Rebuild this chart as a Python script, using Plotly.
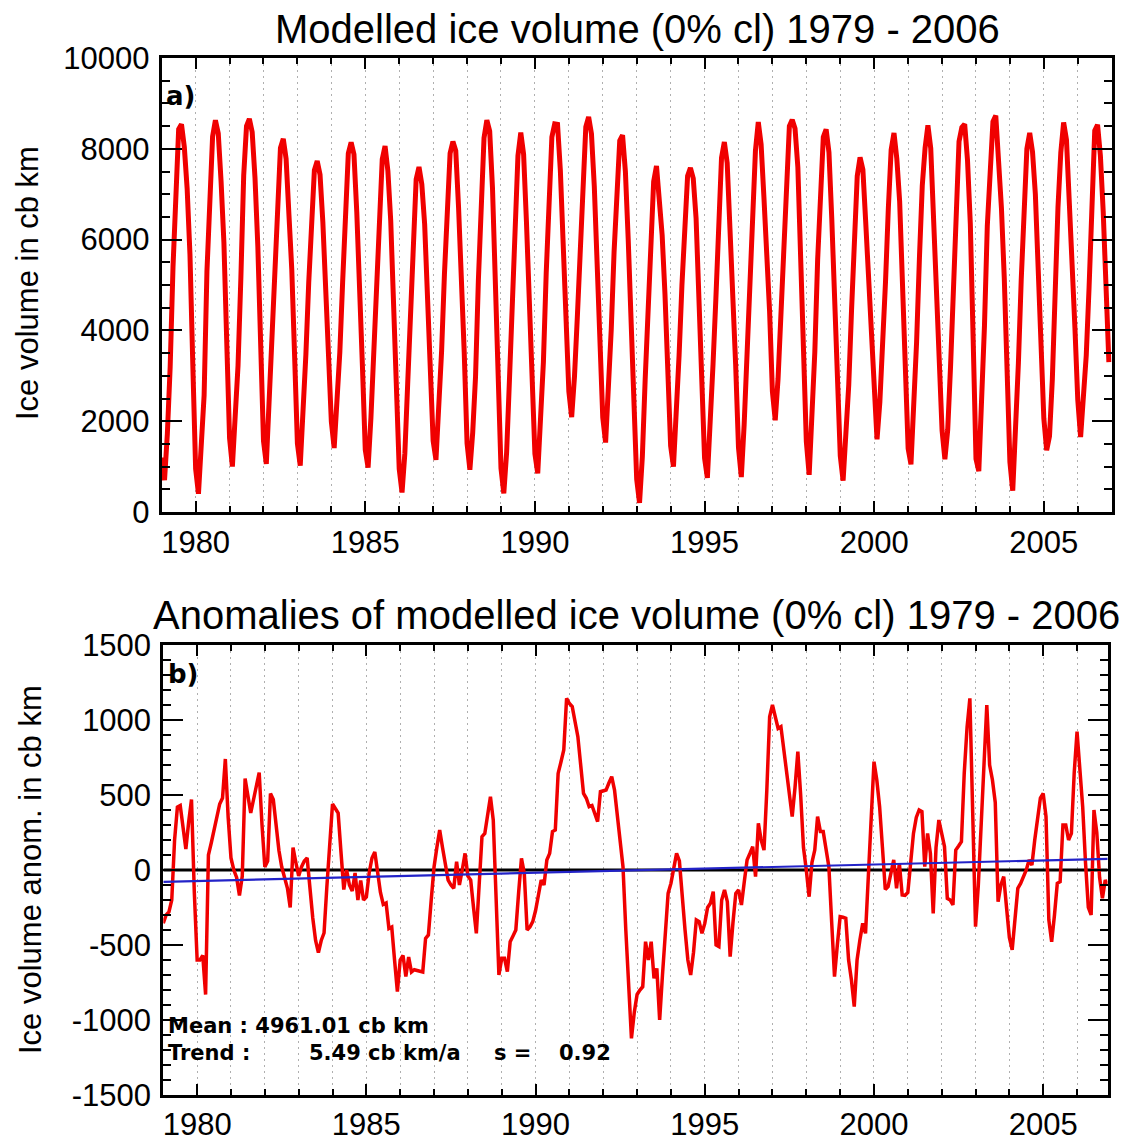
import plotly.graph_objects as go

W, H = 1126, 1141

# ---------------- data ----------------
years = list(range(1979, 2007))

# Monthly modelled ice volume (cb km), one row per year Jan..Dec
ice_volume_rows = [
    [1200, 700, 1720, 3200, 5400, 7220, 8430, 8540, 8040, 7120, 5670, 3250],   # 1979
    [950, 400, 1430, 2570, 5300, 6980, 8270, 8630, 8340, 7280, 5940, 3750],    # 1980
    [1630, 1000, 1950, 3230, 5160, 7410, 8500, 8660, 8370, 7360, 5850, 3700],  # 1981
    [1570, 1060, 2510, 3870, 5500, 6930, 8020, 8220, 7780, 6550, 5350, 3450],  # 1982
    [1510, 1020, 2060, 3480, 5050, 6480, 7530, 7730, 7430, 6380, 5090, 3580],  # 1983
    [1990, 1410, 2380, 3520, 5070, 6800, 7900, 8140, 7880, 6600, 5130, 3200],  # 1984
    [1370, 980, 2080, 3520, 5180, 6650, 7770, 8060, 7510, 6420, 4600, 2590],   # 1985
    [950, 430, 1290, 2820, 4520, 6140, 7330, 7600, 7220, 6340, 4770, 3200],    # 1986
    [1570, 1150, 2270, 3550, 5240, 6730, 7900, 8160, 7960, 6700, 5200, 3510],  # 1987
    [1510, 930, 1750, 2980, 5100, 7020, 8240, 8630, 8390, 7130, 5000, 2700],   # 1988
    [960, 410, 1320, 2920, 4760, 6400, 7850, 8360, 7880, 6400, 4820, 3060],    # 1989
    [1280, 850, 1930, 3300, 5270, 6910, 8260, 8550, 8540, 7520, 6000, 4540],   # 1990
    [2660, 2090, 2990, 4290, 5900, 7310, 8480, 8700, 8330, 7180, 5520, 3920],  # 1991
    [2080, 1530, 2580, 4020, 5730, 7150, 8180, 8300, 7500, 6000, 4080, 2450],  # 1992
    [720, 200, 1220, 2920, 4600, 6320, 7280, 7620, 6900, 6100, 4800, 3240],    # 1993
    [1460, 1000, 2110, 3460, 5000, 6400, 7400, 7580, 7350, 6470, 4860, 2980],  # 1994
    [1190, 750, 1780, 3260, 4700, 6290, 7800, 8150, 7690, 6220, 4850, 3240],   # 1995
    [1420, 770, 1920, 3470, 5310, 6960, 7960, 8590, 8100, 6930, 5730, 4420],   # 1996
    [2650, 2020, 2940, 4360, 6000, 7440, 8500, 8640, 8450, 7590, 5700, 3550],  # 1997
    [1550, 820, 2050, 3530, 5560, 7060, 8260, 8430, 7920, 6450, 4490, 2900],   # 1998
    [1240, 690, 1680, 2800, 4470, 5890, 7400, 7810, 7540, 6380, 5180, 3800],   # 1999
    [2270, 1600, 2420, 3550, 5070, 6690, 7980, 8350, 7780, 6840, 5030, 3230],  # 2000
    [1400, 1050, 2240, 3750, 5600, 7190, 8020, 8520, 8010, 6510, 5350, 3730],  # 2001
    [1800, 1160, 1810, 3200, 4970, 6930, 8160, 8470, 8540, 7750, 6340, 3800],  # 2002
    [1170, 900, 2300, 4100, 6300, 7500, 8600, 8730, 7690, 6700, 5160, 3150],   # 2003
    [1100, 470, 1650, 3280, 5110, 6760, 8000, 8350, 7930, 7000, 5550, 3880],   # 2004
    [2060, 1360, 1670, 2920, 4900, 6710, 7920, 8580, 8200, 7000, 5440, 4050],  # 2005
    [2470, 1650, 2420, 3450, 4950, 6500, 8400, 8530, 7850, 6610, 5130, 3300],  # 2006
]

# Monthly anomalies of modelled ice volume (cb km), one row per year Jan..Dec
anomaly_rows = [
    [-355, -300, -280, -200, 200, 420, 430, 260, 140, 320, 470, -150],     # 1979
    [-600, -600, -570, -830, 100, 180, 270, 350, 440, 480, 740, 350],      # 1980
    [80, 0, -50, -170, -40, 610, 500, 380, 470, 560, 650, 300],            # 1981
    [20, 60, 510, 470, 300, 130, 20, -60, -120, -250, 150, 50],            # 1982
    [-40, 20, 60, 80, -150, -320, -470, -550, -470, -420, -110, 180],      # 1983
    [440, 410, 380, 120, -130, 0, -100, -140, -20, -200, -70, -200],       # 1984
    [-180, -20, 80, 120, -20, -150, -230, -220, -390, -380, -600, -810],   # 1985
    [-600, -570, -710, -580, -680, -665, -670, -675, -680, -456, -433, -200],  # 1986
    [20, 150, 267, 150, 40, -67, -100, -122, 56, -100, 0, 111],            # 1987
    [-40, -67, -250, -422, -100, 222, 244, 350, 489, 333, -200, -700],     # 1988
    [-589, -589, -678, -478, -440, -400, -150, 78, -22, -400, -380, -344], # 1989
    [-270, -150, -67, -100, 67, 111, 256, 267, 644, 720, 800, 1144],       # 1990
    [1110, 1089, 990, 889, 700, 511, 478, 422, 430, 380, 322, 522],        # 1991
    [525, 533, 580, 622, 533, 350, 178, 22, -400, -800, -1122, -950],      # 1992
    [-830, -800, -778, -478, -600, -478, -722, -656, -1000, -700, -400, -156],  # 1993
    [-89, 0, 111, 60, -200, -400, -600, -700, -550, -333, -344, -422],     # 1994
    [-356, -250, -222, -144, -500, -511, -200, -133, -211, -578, -350, -156],  # 1995
    [-133, -233, -80, 67, 110, 156, -44, 311, 200, 133, 533, 1022],        # 1996
    [1100, 1020, 944, 956, 800, 644, 500, 356, 550, 789, 500, 150],        # 1997
    [0, -178, 50, 133, 356, 256, 256, 150, 22, -350, -711, -500],          # 1998
    [-311, -315, -322, -600, -733, -911, -600, -467, -356, -422, -22, 400],  # 1999
    [722, 600, 420, 150, -130, -111, -20, 67, -122, 44, -167, -170],       # 2000
    [-150, 50, 244, 350, 400, 389, 22, 244, 111, -289, 150, 333],          # 2001
    [250, 156, -189, -200, -233, 133, 160, 189, 644, 950, 1144, 400],      # 2002
    [-378, -100, 300, 700, 1100, 700, 600, 450, -211, -100, -44, -250],    # 2003
    [-450, -533, -350, -122, -90, -44, 0, 67, 33, 200, 350, 480],          # 2004
    [511, 356, -333, -478, -300, -89, -78, 300, 300, 200, 244, 650],       # 2005
    [922, 650, 422, 50, -250, -300, 400, 250, -50, -189, -67, -100],       # 2006
]

# Linear trend of the anomalies (5.49 cb km/a), end points
trend_x = [1979.0, 2007.0]
trend_y = [-79, 75]

zero_x = [1979.0, 2007.0]
zero_y = [0, 0]

x_tickvals = [1980, 1985, 1990, 1995, 2000, 2005]
x_ticktext = ["1980", "1985", "1990", "1995", "2000", "2005"]
top_y_tickvals = [0, 2000, 4000, 6000, 8000, 10000]
top_y_ticktext = ["0", "2000", "4000", "6000", "8000", "10000"]
bot_y_tickvals = [-1500, -1000, -500, 0, 500, 1000, 1500]
bot_y_ticktext = ["-1500", "-1000", "-500", "0", "500", "1000", "1500"]

title_top = "Modelled ice volume (0% cl) 1979 - 2006"
title_bot = "Anomalies of modelled ice volume (0% cl) 1979 - 2006"
ytitle_top = "Ice volume in cb km"
ytitle_bot = "Ice volume anom. in cb km"

# ---------------- build ----------------
t = [y + m / 12.0 for y in years for m in range(12)]
ice_volume = [v for row in ice_volume_rows for v in row]
anomaly = [v for row in anomaly_rows for v in row]

RED = "rgb(240,0,0)"
BLUE = "rgb(35,35,200)"
GRID = "rgb(175,175,175)"
TICKFONT = dict(family="Liberation Sans, Arial, sans-serif", size=31, color="black")

fig = go.Figure()
fig.add_trace(go.Scatter(x=t, y=ice_volume, mode="lines",
                         line=dict(color=RED, width=5), xaxis="x", yaxis="y",
                         showlegend=False, hoverinfo="skip"))
fig.add_trace(go.Scatter(x=zero_x, y=zero_y, mode="lines",
                         line=dict(color="black", width=3), xaxis="x2", yaxis="y2",
                         showlegend=False, hoverinfo="skip"))
fig.add_trace(go.Scatter(x=t, y=anomaly, mode="lines",
                         line=dict(color=RED, width=3.5), xaxis="x2", yaxis="y2",
                         showlegend=False, hoverinfo="skip"))
fig.add_trace(go.Scatter(x=trend_x, y=trend_y, mode="lines",
                         line=dict(color=BLUE, width=2.2), xaxis="x2", yaxis="y2",
                         showlegend=False, hoverinfo="skip"))


def px_x(p):
    return p / W


def px_y(p):
    return 1 - p / H


def xaxis_style(domain, rng, anchor, standoff):
    return dict(
        domain=domain, range=rng, anchor=anchor,
        tickmode="array", tickvals=x_tickvals, ticktext=x_ticktext,
        ticks="inside", ticklen=11, tickwidth=2, tickcolor="black",
        showline=True, linewidth=3, linecolor="black", mirror="allticks",
        showgrid=True, gridcolor=GRID, gridwidth=1, griddash="2px,4px",
        zeroline=False, tickfont=TICKFONT, ticklabelstandoff=standoff,
        minor=dict(dtick=1, tick0=1979, ticks="inside", ticklen=6, tickwidth=2,
                   tickcolor="black", showgrid=True, gridcolor=GRID,
                   gridwidth=1, griddash="2px,4px"),
    )


def yaxis_style(domain, rng, anchor, tv, tt, minor_dtick):
    return dict(
        domain=domain, range=rng, anchor=anchor,
        tickmode="array", tickvals=tv, ticktext=tt,
        ticks="inside", ticklen=20, tickwidth=2, tickcolor="black",
        showline=True, linewidth=3, linecolor="black", mirror="allticks",
        showgrid=False, zeroline=False, tickfont=TICKFONT, ticklabelstandoff=3,
        minor=dict(dtick=minor_dtick, tick0=rng[0], ticks="inside", ticklen=8,
                   tickwidth=2, tickcolor="black", showgrid=False),
    )


fig.update_layout(
    width=W, height=H,
    margin=dict(l=0, r=0, t=0, b=0, autoexpand=False),
    paper_bgcolor="white", plot_bgcolor="white",
    xaxis=xaxis_style([px_x(161.7), px_x(1111.7)], [1979, 2007], "y", 1),
    yaxis=yaxis_style([px_y(512), px_y(58)], [0, 10000], "x",
                      top_y_tickvals, top_y_ticktext, 500),
    xaxis2=xaxis_style([px_x(163.3), px_x(1107.5)], [1979, 2006.9], "y2", 0),
    yaxis2=yaxis_style([px_y(1095), px_y(645)], [-1500, 1500], "x2",
                       bot_y_tickvals, bot_y_ticktext, 100),
)

TITLEFONT = dict(family="Liberation Sans, Arial, sans-serif", size=40, color="black")
AXTFONT = dict(family="Liberation Sans, Arial, sans-serif", size=31, color="black")

ann = [
    dict(text=title_top, x=px_x(637), y=px_y(29), font=TITLEFONT),
    dict(text=title_bot, x=px_x(636), y=px_y(615), font=TITLEFONT),
    dict(text=ytitle_top, x=px_x(28), y=px_y(283), textangle=-90, font=AXTFONT),
    dict(text=ytitle_bot, x=px_x(30), y=px_y(870), textangle=-90, font=AXTFONT),
]
for a in ann:
    a.update(xref="paper", yref="paper", showarrow=False, xanchor="center", yanchor="middle")

small = [
    ("<b>a)</b>", 164, 96, 26),
    ("<b>b)</b>", 166, 674, 26),
    ("<b>Mean : 4961.01 cb km</b>", 166, 1026, 21),
    ("<b>Trend :</b>", 166, 1053, 21),
    ("<b>5.49 cb km/a</b>", 307, 1053, 21),
    ("<b>s =</b>", 492, 1053, 21),
    ("<b>0.92</b>", 557, 1053, 21),
]
for txt, xp, yp, sz in small:
    ann.append(dict(text=txt, x=px_x(xp), y=px_y(yp), xref="paper", yref="paper",
                    showarrow=False, xanchor="left", yanchor="middle",
                    font=dict(family="DejaVu Sans, sans-serif", size=sz, color="black")))

fig.update_layout(annotations=ann)

html = fig.to_html(full_html=True, include_plotlyjs=True,
                   config={"displayModeBar": False})
html = html.replace("<head>", "<head><style>html,body{margin:0;padding:0;overflow:hidden;}</style>", 1)
with open("out.html", "w", encoding="utf-8") as f:
    f.write(html)
